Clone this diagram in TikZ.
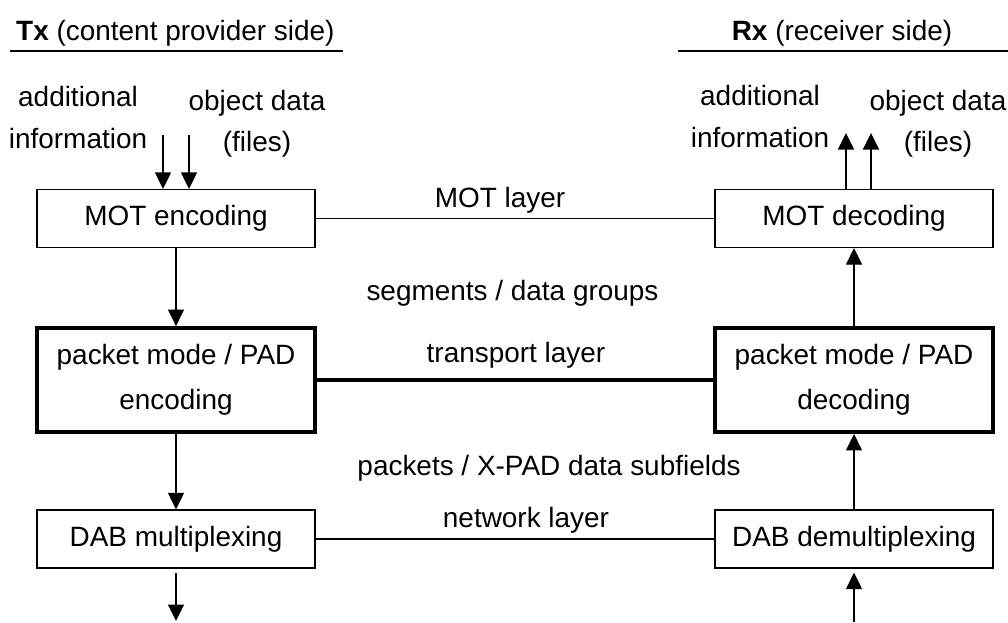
\documentclass[tikz,border=0pt]{standalone}
\usepackage{fontspec}
\setmainfont{Liberation Sans}
\usetikzlibrary{arrows.meta}

\begin{document}
\begin{tikzpicture}[
    every node/.style={font=\fontsize{15.9}{23.5}\selectfont},
    block/.style={draw, line width=0.7pt, minimum width=5.56cm, minimum height=1.16cm, align=center},
    thickblock/.style={block, line width=2.2pt, minimum height=2.08cm, font=\fontsize{15.9}{25.5}\selectfont},
    flow/.style={line width=0.7pt, -{Triangle[width=0.32cm,length=0.33cm]}},
    layer/.style={line width=0.7pt},
  ]
  \useasboundingbox (0,0) rectangle (20.16,-12.44);

  % headers
  \node[anchor=west] (txhead) at (0.2,-0.66) {\textbf{Tx} (content provider side)};
  \node (rxhead) at (16.84,-0.66) {\textbf{Rx} (receiver side)};
  \draw[layer] (0.2,-1.02) -- (6.86,-1.02);
  \draw[layer] (13.56,-1.02) -- (20.16,-1.02);

  % Tx side
  \node[block] (motenc) at (3.52,-4.37) {MOT encoding};
  \node[thickblock] (padenc) at (3.52,-7.6) {packet mode / PAD\\encoding};
  \node[block] (mux) at (3.52,-10.78) {DAB multiplexing};

  % Rx side
  \node[block] (motdec) at (17.08,-4.37) {MOT decoding};
  \node[thickblock] (paddec) at (17.08,-7.6) {packet mode / PAD\\decoding};
  \node[block] (demux) at (17.08,-10.78) {DAB demultiplexing};

  % inputs and outputs
  \node[align=center] (txadd) at (1.56,-2.35) {additional\\information};
  \node[align=center] (txobj) at (5.14,-2.48) {object data\\(files)};
  \node[align=center] (rxadd) at (15.2,-2.33) {additional\\information};
  \node[align=center] (rxobj) at (18.76,-2.48) {object data\\(files)};
  \coordinate (addin) at (3.26,-2.7);
  \coordinate (objin) at (3.78,-2.7);
  \coordinate (addout) at (16.92,-2.66);
  \coordinate (objout) at (17.42,-2.66);
  \coordinate (txout) at (3.52,-12.42);
  \coordinate (rxin) at (17.08,-12.44);

  \draw[flow] (addin) -- (addin |- motenc.north);
  \draw[flow] (objin) -- (objin |- motenc.north);
  \draw[flow] (motdec.north -| addout) -- (addout);
  \draw[flow] (motdec.north -| objout) -- (objout);

  \draw[flow] (motenc) -- (padenc);
  \draw[flow] (padenc) -- (mux);
  \draw[flow] ([yshift=-0.08cm]mux.south) -- (txout);
  \draw[flow] (rxin) -- ([yshift=-0.08cm]demux.south);
  \draw[flow] (demux) -- (paddec);
  \draw[flow] (paddec) -- (motdec);

  % layers
  \draw[layer] (motenc) -- (motdec);
  \draw[line width=2.2pt] (padenc) -- (paddec);
  \draw[layer] (mux) -- (demux);
  \node (motlayer) at (10.0,-4.0) {MOT layer};
  \node (seglabel) at (10.25,-5.86) {segments / data groups};
  \node (translayer) at (10.32,-7.1) {transport layer};
  \node (pktlabel) at (10.98,-9.36) {packets / X-PAD data subfields};
  \node (netlayer) at (10.52,-10.4) {network layer};
\end{tikzpicture}
\end{document}
